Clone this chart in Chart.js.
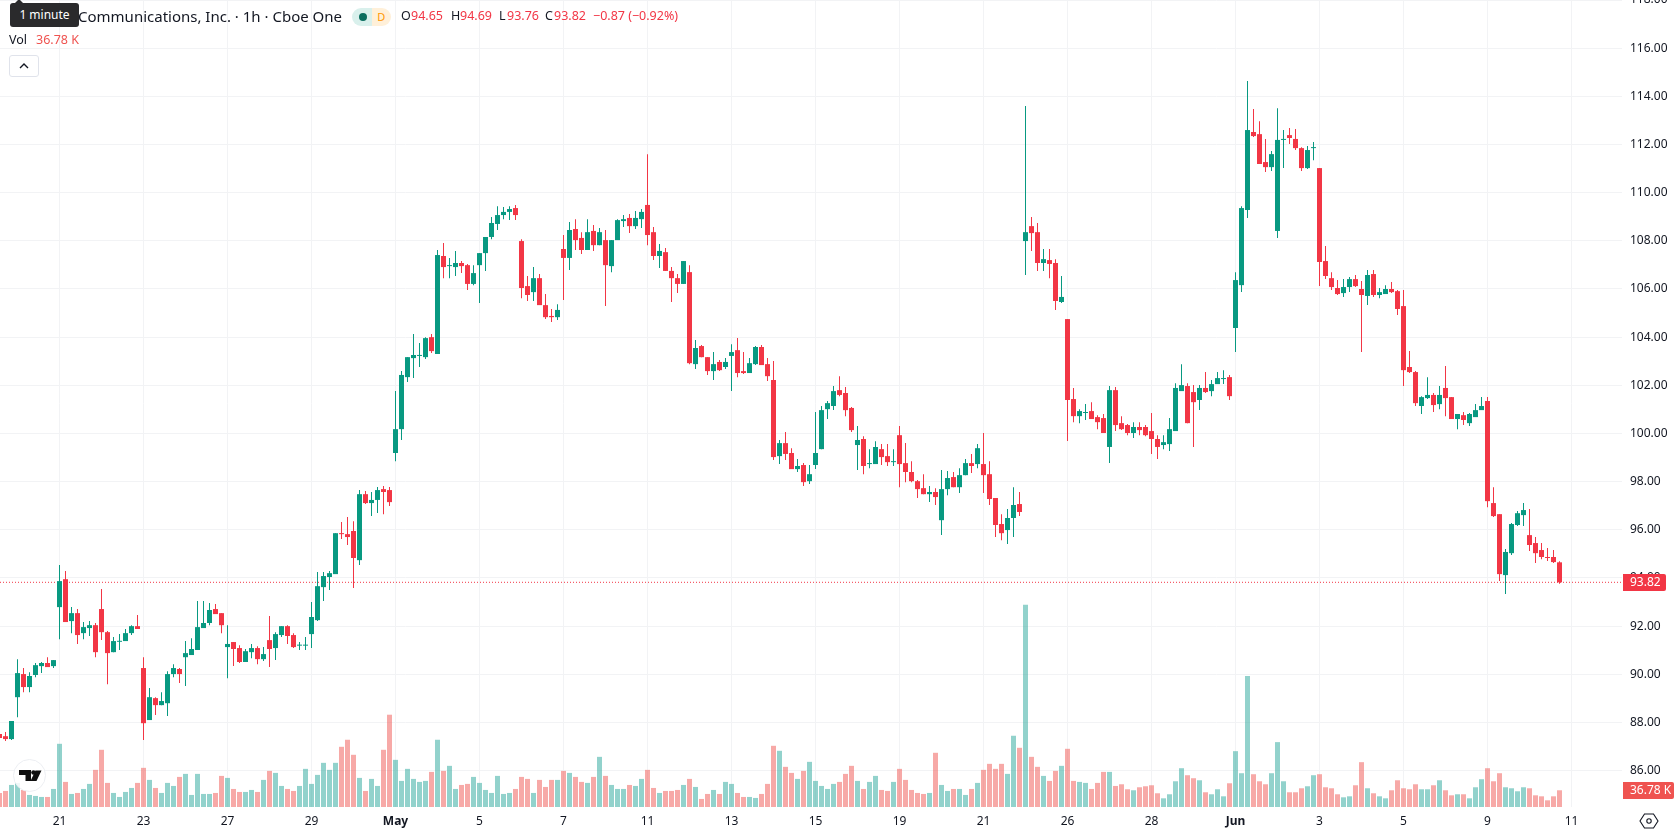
<!DOCTYPE html>
<html>
<head>
<meta charset="utf-8">
<title>Communications, Inc. 1h</title>
<script src="https://cdn.jsdelivr.net/npm/chart.js@4"></script>
<style>
    html, body { margin: 0; padding: 0; background: #fff; overflow: hidden; }
    body { width: 1678px; height: 835px; position: relative; font-family: "Noto Sans", sans-serif; color: #131722; }
    #priceChart { position: absolute; left: 0; top: 0; }
    .abs { position: absolute; white-space: nowrap; }
    .red { color: #f23645; }
    .tip { left: 10px; top: 3px; width: 69px; height: 24px; background: #2a2a2c; color: #fff; border-radius: 3px;
           font-size: 12px; line-height: 24px; text-align: center; }
    .tip:before { content: ""; position: absolute; left: 5px; top: -4px; border: 4px solid transparent; border-top: 0; border-bottom-color: #2a2a2c; }
    .pill { left: 352px; top: 8px; width: 39px; height: 18px; border-radius: 9px; overflow: hidden; font-size: 11px; line-height: 18px; }
    .pill i { position: absolute; top: 0; bottom: 0; width: 50%; font-style: normal; text-align: center; }
    .dot { position: absolute; left: 7px; top: 5px; width: 8px; height: 8px; border-radius: 50%; background: #0b6e5f; }
    .collapse { left: 9px; top: 55px; width: 28px; height: 20px; border: 1px solid #e0e3eb; border-radius: 3px; background: #fff; }
    .logo { left: 13px; top: 759px; width: 33px; height: 33px; border-radius: 50%; background: rgba(255,255,255,.85); border: 1px solid #eceef2; box-sizing: border-box; }
</style>
</head>
<body>
<canvas id="priceChart" width="1678" height="835"></canvas>

<div class="abs" style="left:78px;top:6px;font-size:15px;line-height:20px">Communications, Inc. · 1h · Cboe One</div>
<div class="abs tip">1 minute</div>
<div class="abs pill">
    <i style="left:0;background:#d9f0ec"><span class="dot"></span></i>
    <i style="right:0;background:#fff0d9;color:#ff9800">D</i>
</div>
<div class="abs" style="left:401px;top:7px;font-size:12.5px;line-height:18px">O</div>
<div class="abs red" style="left:411px;top:7px;font-size:12.5px;line-height:18px">94.65</div>
<div class="abs" style="left:451px;top:7px;font-size:12.5px;line-height:18px">H</div>
<div class="abs red" style="left:460px;top:7px;font-size:12.5px;line-height:18px">94.69</div>
<div class="abs" style="left:499px;top:7px;font-size:12.5px;line-height:18px">L</div>
<div class="abs red" style="left:507px;top:7px;font-size:12.5px;line-height:18px">93.76</div>
<div class="abs" style="left:545px;top:7px;font-size:12.5px;line-height:18px">C</div>
<div class="abs red" style="left:554px;top:7px;font-size:12.5px;line-height:18px">93.82</div>
<div class="abs red" style="left:593px;top:7px;font-size:12.5px;line-height:18px">−0.87 (−0.92%)</div>
<div class="abs" style="left:9px;top:31px;font-size:12.5px;line-height:18px">Vol</div>
<div class="abs" style="left:36px;top:31px;font-size:12.5px;line-height:18px;color:#ef5350">36.78 K</div>

<div class="abs collapse">
    <svg width="28" height="20" viewBox="0 0 28 20"><path d="M10 12l4-4 4 4" fill="none" stroke="#131722" stroke-width="1.4"/></svg>
</div>
<div class="abs logo">
    <svg width="31" height="31" viewBox="0 0 31 31">
        <path d="M5 10h12v11h-5.5v-6H5z M21.5 10.5h6l-5 10.500h-6z" fill="#0f0f0f"/>
        <circle cx="19.500" cy="12.500" r="2.300" fill="#0f0f0f"/>
    </svg>
</div>
<div class="abs" style="left:1639px;top:811px;width:20px;height:20px">
    <svg width="20" height="20" viewBox="0 0 20 20">
        <path d="M5.5 3h9l4.5 7-4.5 7h-9L1 10z" fill="none" stroke="#131722" stroke-width="1.1"/>
        <circle cx="10" cy="10" r="2.2" fill="none" stroke="#131722" stroke-width="1.1"/>
    </svg>
</div>

<script>
// hourly bars, oldest first
const opens = [
    87.52,87.43,87.31,89.05,90.01,89.47,89.97,90.34,90.47,90.34,
    92.79,93.95,92.21,92.54,91.71,91.92,92.04,92.71,91.75,90.92,
    91.35,91.38,91.71,92.00,90.26,88.10,89.01,88.72,88.80,90.01,
    90.22,90.71,90.80,91.01,91.92,92.13,92.71,92.54,91.13,91.34,
    91.09,90.51,90.92,91.09,90.63,91.42,91.09,91.63,92.00,91.63,
    91.19,91.19,91.67,92.25,93.62,94.04,94.16,95.86,95.82,95.95,
    94.74,97.48,97.11,97.24,97.69,97.65,99.19,100.18,102.34,103.13,
    103.22,103.17,104.00,103.30,107.37,106.95,106.91,107.08,106.99,106.21,
    106.99,107.49,108.16,108.70,109.07,109.20,109.36,107.99,106.12,105.87,
    106.45,105.33,104.88,104.83,107.66,107.29,108.49,108.12,107.62,108.41,
    107.82,108.03,106.95,108.03,108.82,108.95,108.61,108.90,109.49,108.36,
    107.37,107.53,106.75,106.45,106.21,106.70,102.88,103.63,103.17,102.59,
    102.97,102.76,103.22,103.46,102.59,102.51,102.88,103.59,102.88,102.22,
    99.06,99.60,99.19,98.52,98.69,98.02,98.69,99.35,101.01,101.14,
    101.80,101.68,101.06,99.52,99.77,98.73,98.73,99.35,99.06,98.81,
    99.93,98.77,98.40,98.02,97.73,97.48,97.57,96.40,97.69,98.19,
    97.77,98.27,98.77,98.73,98.73,98.31,97.32,96.24,95.99,96.49,
    97.07,107.99,108.61,108.36,107.08,107.20,107.08,105.46,104.75,101.43,
    100.72,100.85,100.93,100.68,100.64,99.44,101.80,100.43,100.35,100.02,
    100.27,100.27,100.10,99.77,99.52,99.56,100.10,101.76,101.97,101.72,
    101.39,101.89,101.76,102.05,102.26,102.34,104.38,106.16,109.28,112.52,
    112.43,111.27,111.06,108.41,112.19,112.39,112.23,111.85,111.02,111.85,
    111.02,107.16,106.45,106.04,105.83,106.08,106.41,106.00,105.71,106.62,
    105.75,105.79,106.00,105.91,105.29,102.76,102.55,101.14,101.47,101.60,
    101.22,101.89,101.51,100.60,100.76,100.43,100.68,100.97,101.35,97.11,
    96.65,94.12,95.03,96.20,96.61,95.78,95.45,95.16,94.87,94.87,94.65
];
const highs = [
    87.52,87.60,88.06,90.63,90.26,90.09,90.47,90.51,90.71,90.59,
    94.54,94.29,92.79,92.71,92.17,92.21,92.13,93.54,91.80,91.55,
    91.67,91.88,92.04,92.46,90.71,89.43,89.05,89.26,90.13,90.42,
    90.26,91.38,91.50,93.04,93.04,92.96,92.92,92.54,92.04,91.34,
    91.21,91.05,91.26,91.17,91.13,92.42,91.75,92.00,92.04,91.71,
    91.34,91.55,93.00,94.25,94.25,94.29,95.86,96.32,96.53,96.36,
    97.65,97.61,97.57,97.78,97.82,97.78,101.76,102.59,103.17,104.13,
    103.76,104.00,104.13,107.62,107.91,107.29,107.58,107.16,107.04,106.99,
    107.49,108.16,108.99,109.44,109.40,109.44,109.49,108.07,106.54,106.91,
    106.62,105.79,105.17,105.37,108.24,108.78,108.90,108.36,108.90,108.66,
    108.53,108.45,108.03,108.90,109.07,109.11,109.24,109.32,111.60,108.57,
    107.87,107.70,106.91,106.62,107.16,106.99,103.88,103.67,103.17,103.38,
    103.05,103.13,103.71,103.96,103.38,103.13,103.63,103.67,103.13,103.01,
    99.73,100.06,99.39,98.94,98.77,98.69,100.89,101.14,101.35,101.97,
    102.38,101.93,101.10,100.31,99.89,99.35,99.68,99.56,99.56,99.35,
    100.31,99.60,98.85,98.07,98.31,97.82,97.73,98.48,98.44,98.40,
    98.56,98.94,99.15,99.56,100.02,98.85,97.32,96.65,96.86,97.77,
    97.57,113.60,108.99,108.74,107.66,107.66,107.24,106.54,104.75,101.89,
    101.01,101.22,101.30,100.76,100.81,101.97,101.93,100.72,100.39,100.47,
    100.47,100.35,100.85,99.93,99.93,100.64,102.09,102.88,102.09,102.01,
    102.01,102.55,102.22,102.55,102.63,102.43,106.70,109.44,114.64,113.47,
    112.97,112.23,111.73,113.51,112.60,112.68,112.64,111.89,111.94,112.10,
    111.02,107.78,106.70,106.37,106.41,106.50,106.58,106.33,106.79,106.79,
    106.04,106.16,106.29,105.96,105.96,103.42,102.59,101.55,102.34,101.68,
    101.97,102.80,101.51,100.81,100.89,100.85,101.22,101.51,101.51,97.77,
    96.65,95.20,96.28,96.78,97.11,96.86,95.70,95.45,95.24,95.16,94.69
];
const lows = [
    87.35,87.23,87.27,88.22,89.26,89.26,89.88,90.05,90.30,90.26,
    91.46,92.17,91.71,91.26,91.46,91.59,90.71,91.42,89.59,90.92,
    91.01,91.38,91.63,91.88,87.27,88.10,88.31,88.72,88.27,89.88,
    89.64,89.51,90.80,91.01,91.92,92.04,92.50,91.71,89.84,90.34,
    90.47,90.51,90.67,90.42,90.55,90.30,90.59,91.55,91.26,91.09,
    91.01,91.01,91.09,92.21,93.04,93.50,94.16,95.62,95.37,93.58,
    94.54,97.07,96.57,96.70,96.65,96.99,98.85,99.73,102.14,102.30,
    102.76,103.09,103.34,103.30,106.45,106.45,106.54,106.66,105.96,106.16,
    105.42,106.75,108.07,108.45,108.90,108.86,108.86,105.62,105.50,105.50,
    105.33,104.75,104.63,104.71,105.54,106.79,107.62,107.45,107.62,107.58,
    107.82,105.29,106.70,108.03,108.57,108.32,108.49,108.53,107.82,107.20,
    106.87,106.75,105.46,105.83,106.21,102.88,102.68,103.17,102.43,102.22,
    102.59,102.68,101.76,102.34,102.47,102.51,102.84,102.84,102.18,98.90,
    98.73,98.90,98.52,98.40,97.82,97.90,98.52,99.35,100.60,100.97,
    101.55,100.72,100.06,98.48,98.31,98.56,98.73,98.69,98.65,98.65,
    97.77,97.98,97.98,97.32,97.48,97.15,97.03,95.78,97.44,97.77,
    97.53,98.27,98.36,98.56,97.53,97.03,95.70,95.57,95.41,95.70,
    96.57,106.58,107.58,106.75,106.75,106.45,105.13,105.42,99.69,100.47,
    100.43,100.56,100.60,100.18,100.02,98.77,100.10,100.14,99.93,99.81,
    99.93,99.89,99.15,98.94,99.35,99.27,100.10,101.76,100.43,99.44,
    100.97,101.68,101.55,102.05,102.05,101.39,103.38,105.87,108.95,112.31,
    111.19,110.86,110.90,108.12,111.02,112.02,111.77,110.90,110.98,111.35,
    106.12,106.41,105.96,105.75,105.67,105.87,106.08,103.38,105.33,105.67,
    105.62,105.79,105.83,104.92,101.97,102.51,101.14,100.81,101.43,100.89,
    101.01,100.72,100.60,100.18,100.35,100.31,100.68,100.97,96.94,96.53,
    93.87,93.33,94.95,96.16,96.16,95.12,94.62,94.78,94.70,94.62,93.76
];
const closes = [
    87.35,87.31,88.06,90.05,89.47,89.93,90.38,90.47,90.30,90.59,
    93.87,92.17,92.54,91.63,91.96,92.04,90.92,91.75,90.88,91.38,
    91.38,91.71,92.00,91.88,87.97,89.05,88.72,88.89,90.01,90.26,
    90.01,90.88,91.05,91.96,92.13,92.67,92.50,92.04,91.26,91.05,
    90.51,90.96,91.09,90.63,90.84,91.05,91.67,92.00,91.59,91.13,
    91.21,91.21,92.38,93.66,94.08,94.20,95.86,95.82,95.70,94.83,
    97.48,97.11,97.24,97.65,97.57,97.15,100.18,102.43,103.17,103.26,
    103.26,103.96,103.42,107.41,106.91,106.99,107.08,106.95,106.21,106.66,
    107.49,108.16,108.74,109.07,109.20,109.32,109.07,106.04,105.75,106.45,
    105.33,104.83,104.83,105.13,107.29,108.45,108.03,107.62,108.36,107.82,
    108.36,106.99,108.03,108.86,108.90,108.61,108.95,109.20,108.24,107.37,
    107.58,106.75,106.45,106.21,107.16,102.92,103.55,103.17,102.59,102.88,
    102.63,102.97,103.38,102.51,102.51,102.92,103.59,102.84,102.38,99.02,
    99.60,99.15,98.52,98.65,97.98,98.31,99.19,100.97,101.26,101.76,
    101.60,100.97,100.14,99.73,98.65,98.77,99.44,99.02,98.81,98.85,
    98.73,98.40,98.02,97.69,97.48,97.57,97.36,97.69,98.15,97.77,
    98.27,98.77,98.65,99.39,98.27,97.28,96.20,95.86,96.49,97.03,
    96.74,108.36,108.32,107.08,107.24,107.04,105.50,105.67,101.39,100.72,
    100.93,100.89,100.60,100.47,100.02,101.80,100.35,100.18,100.02,100.27,
    100.14,99.93,99.77,99.44,99.64,100.18,101.89,102.01,100.43,101.30,
    101.89,101.72,102.05,102.30,102.30,101.55,106.37,109.36,112.60,112.35,
    111.19,111.06,111.60,112.19,112.23,112.27,111.85,111.02,111.77,111.89,
    107.12,106.54,106.08,105.79,106.08,106.41,106.12,105.75,106.58,105.75,
    105.87,106.00,105.87,105.17,102.63,102.55,101.26,101.51,101.60,101.18,
    101.60,101.47,100.60,100.81,100.56,100.81,100.97,101.14,97.19,96.57,
    94.16,95.08,96.24,96.69,96.82,95.37,95.03,94.87,94.83,94.66,93.82
];
// volume in thousands
const volumes = [
    30.9,35.3,48.5,53.0,37.5,26.5,24.3,22.1,22.1,39.7,
    139.0,55.2,28.7,30.9,39.7,50.8,81.7,125.8,53.0,30.9,
    22.1,33.1,41.9,53.0,86.1,59.6,41.9,30.9,53.0,46.3,
    66.2,72.8,26.5,72.8,28.7,28.7,30.9,68.4,64.0,39.7,
    33.1,33.1,37.5,33.1,59.6,79.4,75.0,46.3,39.7,35.3,
    46.3,83.9,50.8,70.6,97.1,81.7,97.1,132.4,147.9,114.8,
    64.0,35.3,61.8,46.3,125.8,203.0,103.7,57.4,83.9,61.8,
    55.2,57.4,77.2,147.9,79.4,90.5,39.7,48.5,50.8,66.2,
    53.0,37.5,30.9,68.4,28.7,30.9,39.7,66.2,61.8,30.9,
    59.6,44.1,59.6,59.6,79.4,75.0,66.2,55.2,53.0,66.2,
    110.3,68.4,48.5,39.7,39.7,48.5,46.3,61.8,81.7,41.9,
    30.9,35.3,35.3,37.5,48.5,61.8,44.1,17.7,28.7,37.5,
    28.7,55.2,50.8,30.9,22.1,22.1,19.9,28.7,50.8,134.6,
    123.6,88.3,75.0,61.8,79.4,99.3,57.4,46.3,39.7,50.8,
    55.2,72.8,90.5,57.4,39.7,55.2,68.4,37.5,35.3,55.2,
    83.9,59.6,37.5,30.9,28.7,30.9,119.2,48.5,35.3,39.7,
    39.7,26.5,39.7,53.0,81.7,94.9,83.9,94.9,72.8,156.7,
    130.2,445.0,110.3,88.3,68.4,57.4,79.4,90.5,128.0,57.4,
    55.2,53.0,39.7,53.0,77.2,77.2,46.3,50.0,39.0,36.8,
    43.4,45.6,47.8,30.2,19.1,28.0,56.6,85.3,69.9,63.3,
    58.8,32.4,28.0,39.0,23.5,52.2,122.8,74.3,288.4,72.1,
    56.6,50.0,74.3,142.7,56.6,32.4,32.4,41.2,45.6,69.9,
    72.1,43.4,41.2,28.0,21.3,23.5,47.8,98.6,41.2,30.2,
    23.5,19.1,36.8,58.8,41.2,39.0,50.0,39.0,39.0,47.8,
    58.8,36.8,25.7,28.0,28.0,19.1,43.4,61.1,85.3,56.6,
    74.3,43.4,41.2,34.6,43.4,41.2,25.7,23.5,14.7,23.5,36.78
];
const tickBars = [10, 24, 38, 52, 66, 80, 94, 108, 122, 136, 150, 164, 178, 192, 206, 220, 234, 248, 262];
const tickLabels = ['21', '23', '27', '29', 'May', '5', '7', '11', '13', '15', '19', '21', '26', '28', 'Jun', '3', '5', '9', '11'];
const monthTicks = ['May', 'Jun'];

const UP = '#089981';
const DOWN = '#f23645';
const UP_VOL = 'rgba(38,166,154,0.5)';
const DOWN_VOL = 'rgba(239,83,80,0.5)';
const GRID = '#f2f3f5';
const FONT = '"Noto Sans", sans-serif';

const lastClose = closes[closes.length - 1];
const lastVolume = volumes[volumes.length - 1];
const isUp = closes.map((c, i) => c >= opens[i]);

// the time scale runs past the last bar and starts a bit inside the first one
const xMin = 1 / 12;
const xMax = 1622.5 / 6;

// keep the plot flush with the canvas, labels may hang over the edges
function noEdgePadding(scale) {
    scale.paddingLeft = 0;
    scale.paddingRight = 0;
    scale.paddingTop = 0;
    scale.paddingBottom = 0;
}

// value badges on the price scale, they follow the y scales
const lastValueBadges = {
    id: 'lastValueBadges',
    afterDraw(chart) {
        const ctx = chart.ctx;
        const left = chart.chartArea.right + 1;
        const badge = (y, w, color, text) => {
            ctx.fillStyle = color;
            ctx.beginPath();
            ctx.roundRect(left, Math.round(y - 8.5), w, 17, [0, 2, 2, 0]);
            ctx.fill();
            ctx.fillStyle = '#fff';
            ctx.font = '12px ' + FONT;
            ctx.textAlign = 'left';
            ctx.textBaseline = 'middle';
            ctx.fillText(text, left + 7, Math.round(y) + 0.5);
        };
        badge(chart.scales.y.getPixelForValue(lastClose), 43, DOWN, lastClose.toFixed(2));
        badge(chart.scales.yVol.getPixelForValue(lastVolume), 51, '#ef5350', lastVolume.toFixed(2) + ' K');
    }
};

new Chart(document.getElementById('priceChart').getContext('2d'), {
    data: {
        datasets: [
            {
                type: 'bar',
                label: 'Body',
                order: 0,
                data: opens.map((o, i) => ({ x: i, y: [o, closes[i]] })),
                backgroundColor: isUp.map(u => u ? UP : DOWN),
                grouped: false,
                barPercentage: 5 / 6,
                categoryPercentage: 1,
                minBarLength: 1,
                yAxisID: 'y'
            },
            {
                type: 'bar',
                label: 'Wick',
                order: 1,
                data: highs.map((h, i) => ({ x: i, y: [lows[i], h] })),
                backgroundColor: isUp.map(u => u ? UP : DOWN),
                grouped: false,
                barPercentage: 1 / 6,
                categoryPercentage: 1,
                yAxisID: 'y'
            },
            {
                type: 'line',
                label: 'Last',
                order: 2,
                data: [{ x: xMin, y: lastClose }, { x: xMax, y: lastClose }],
                borderColor: DOWN,
                borderWidth: 1,
                borderDash: [1, 2],
                pointRadius: 0,
                yAxisID: 'y'
            },
            {
                type: 'bar',
                label: 'Vol',
                order: 3,
                data: volumes.map((v, i) => ({ x: i, y: v })),
                backgroundColor: isUp.map(u => u ? UP_VOL : DOWN_VOL),
                grouped: false,
                barPercentage: 5 / 6,
                categoryPercentage: 1,
                yAxisID: 'yVol'
            }
        ]
    },
    options: {
        responsive: false,
        animation: false,
        layout: { padding: 0 },
        plugins: { legend: { display: false }, tooltip: { enabled: false } },
        scales: {
            x: {
                type: 'linear',
                offset: false,
                min: xMin,
                max: xMax,
                afterFit: scale => { scale.height = 28; noEdgePadding(scale); },
                afterBuildTicks: scale => { scale.ticks = tickBars.map(v => ({ value: v })); },
                grid: { color: GRID, drawTicks: false, offset: false },
                border: { display: false },
                ticks: {
                    autoSkip: false,
                    maxRotation: 0,
                    padding: 7,
                    color: '#131722',
                    font: c => ({
                        family: FONT,
                        size: 12,
                        weight: monthTicks.includes(tickLabels[c.index]) ? '700' : '400'
                    }),
                    callback: (v, i) => tickLabels[i]
                }
            },
            y: {
                position: 'right',
                min: 84.49,
                max: 118,
                afterFit: scale => { scale.width = 56; noEdgePadding(scale); },
                grid: { color: GRID, drawTicks: false },
                border: { display: false },
                ticks: {
                    stepSize: 2,
                    includeBounds: false,
                    crossAlign: 'near',
                    padding: 8,
                    color: '#131722',
                    font: { family: FONT, size: 12 },
                    callback: v => v.toFixed(2)
                }
            },
            yVol: {
                display: false,
                min: 0,
                max: 1775
            }
        }
    },
    plugins: [lastValueBadges]
});
</script>
</body>
</html>
